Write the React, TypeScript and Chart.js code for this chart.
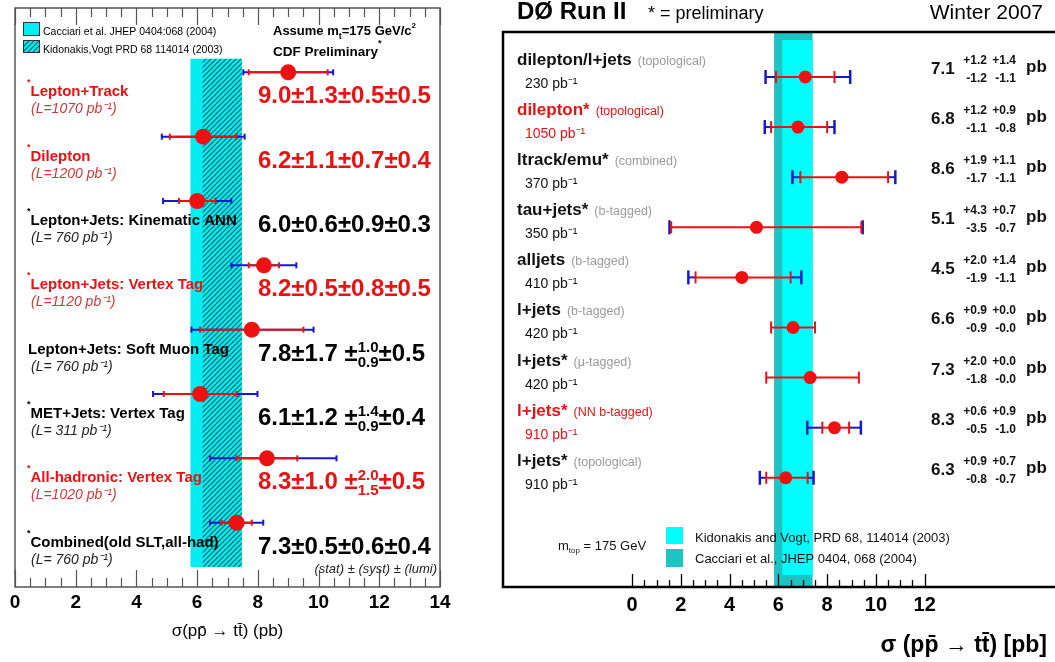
import React, { useEffect, useRef } from 'react';
import { Chart, registerables } from 'chart.js';

Chart.register(...registerables);

const FONT = '"Liberation Sans", Arial, Helvetica, sans-serif';

// ---------------- CDF (left panel) ----------------
const cdfChannels = [
  'Lepton+Track',
  'Dilepton',
  'Lepton+Jets: Kinematic ANN',
  'Lepton+Jets: Vertex Tag',
  'Lepton+Jets: Soft Muon Tag',
  'MET+Jets: Vertex Tag',
  'All-hadronic: Vertex Tag',
  'Combined(old SLT,all-had)',
];
const cdfLumiText = [
  '(L=1070 pb⁻¹)',
  '(L=1200 pb⁻¹)',
  '(L= 760 pb⁻¹)',
  '(L=1120 pb⁻¹)',
  '(L= 760 pb⁻¹)',
  '(L= 311 pb⁻¹)',
  '(L=1020 pb⁻¹)',
  '(L= 760 pb⁻¹)',
];
const cdfPreliminary = [true, true, true, true, false, true, true, true];
const cdfHighlight = [true, true, false, true, false, false, true, false];
const cdfXsec = [9.0, 6.2, 6.0, 8.2, 7.8, 6.1, 8.3, 7.3];
const cdfStat = [1.3, 1.1, 0.6, 0.5, 1.7, 1.2, 1.0, 0.5];
const cdfSystUp = [0.5, 0.7, 0.9, 0.8, 1.0, 1.4, 2.0, 0.6];
const cdfSystDown = [0.5, 0.7, 0.9, 0.8, 0.9, 0.9, 1.5, 0.6];
const cdfLumiErr = [0.5, 0.4, 0.3, 0.5, 0.5, 0.4, 0.5, 0.4];
const cdfTicks = [0, 2, 4, 6, 8, 10, 12, 14];
const cdfCacciari = [5.78, 7.47];
const cdfKidonakis = [6.18, 7.47];

// ---------------- D0 (right panel) ----------------
const d0Channels = [
  'dilepton/l+jets',
  'dilepton*',
  'ltrack/emu*',
  'tau+jets*',
  'alljets',
  'l+jets',
  'l+jets*',
  'l+jets*',
  'l+jets*',
];
const d0Methods = [
  '(topological)',
  '(topological)',
  '(combined)',
  '(b-tagged)',
  '(b-tagged)',
  '(b-tagged)',
  '(μ-tagged)',
  '(NN b-tagged)',
  '(topological)',
];
const d0LumiText = ['230 pb⁻¹', '1050 pb⁻¹', '370 pb⁻¹', '350 pb⁻¹', '410 pb⁻¹', '420 pb⁻¹', '420 pb⁻¹', '910 pb⁻¹', '910 pb⁻¹'];
const d0Highlight = [false, true, false, false, false, false, false, true, false];
const d0Xsec = [7.1, 6.8, 8.6, 5.1, 4.5, 6.6, 7.3, 8.3, 6.3];
const d0StatUp = [1.2, 1.2, 1.9, 4.3, 2.0, 0.9, 2.0, 0.6, 0.9];
const d0StatDown = [1.2, 1.1, 1.7, 3.5, 1.9, 0.9, 1.8, 0.5, 0.8];
const d0SystUp = [1.4, 0.9, 1.1, 0.7, 1.4, 0.0, 0.0, 0.9, 0.7];
const d0SystDown = [1.1, 0.8, 1.1, 0.7, 1.1, 0.0, 0.0, 1.0, 0.7];
const d0Ticks = [0, 2, 4, 6, 8, 10, 12];
const d0Cacciari = [5.82, 7.4];
const d0Kidonakis = [6.16, 7.4];

// ---------------- helpers ----------------
type Seg = { t?: string; font: string; dy?: number; color?: string; top?: string; bot?: string; topDy?: number; botDy?: number; gap?: number };

function segWidth(ctx: CanvasRenderingContext2D, s: Seg) {
  ctx.font = s.font;
  if (s.t !== undefined) return ctx.measureText(s.t).width;
  return Math.max(ctx.measureText(s.top || '').width, ctx.measureText(s.bot || '').width);
}

function drawRich(ctx: CanvasRenderingContext2D, x: number, y: number, segs: Seg[], color: string, align: 'left' | 'right' = 'left') {
  ctx.textAlign = 'left';
  ctx.textBaseline = 'alphabetic';
  const total = segs.reduce((a, s) => a + segWidth(ctx, s) + (s.gap || 0), 0);
  let cx = align === 'right' ? x - total : x;
  for (const s of segs) {
    const w = segWidth(ctx, s);
    ctx.font = s.font;
    ctx.fillStyle = s.color || color;
    if (s.t !== undefined) ctx.fillText(s.t, cx, y + (s.dy || 0));
    else {
      ctx.fillText(s.top || '', cx, y + (s.topDy || 0));
      ctx.fillText(s.bot || '', cx, y + (s.botDy || 0));
    }
    cx += w + (s.gap || 0);
  }
  return cx;
}

function line(ctx: CanvasRenderingContext2D, x0: number, y0: number, x1: number, y1: number) {
  ctx.beginPath();
  ctx.moveTo(x0, y0);
  ctx.lineTo(x1, y1);
  ctx.stroke();
}

function makeHatch(ctx: CanvasRenderingContext2D) {
  const c = document.createElement('canvas');
  c.width = 5;
  c.height = 5;
  const g = c.getContext('2d')!;
  g.fillStyle = '#00eef2';
  g.fillRect(0, 0, 5, 5);
  g.strokeStyle = '#125a60';
  g.lineWidth = 1.1;
  g.beginPath();
  g.moveTo(-1, 6);
  g.lineTo(6, -1);
  g.moveTo(-1, 1);
  g.lineTo(1, -1);
  g.moveTo(4, 6);
  g.lineTo(6, 4);
  g.stroke();
  return ctx.createPattern(c, 'repeat')!;
}

const RED = '#e81212';
const BLUE = '#1818c8';

// ---------------- CDF plugin ----------------
const cdfPlugin = {
  id: 'cdfDecor',
  beforeDatasetsDraw(chart: any) {
    const { ctx, scales } = chart;
    const x = scales.x, y = scales.y;
    ctx.save();
    const yTop = y.getPixelForValue(-0.21);
    const yBot = y.getPixelForValue(7.69);
    const c0 = x.getPixelForValue(cdfCacciari[0]);
    const c1 = x.getPixelForValue(cdfCacciari[1]);
    ctx.fillStyle = '#00eef2';
    ctx.fillRect(c0, yTop, c1 - c0, yBot - yTop);
    const k0 = x.getPixelForValue(cdfKidonakis[0]);
    const k1 = x.getPixelForValue(cdfKidonakis[1]);
    ctx.fillStyle = makeHatch(ctx);
    ctx.fillRect(k0, yTop, k1 - k0, yBot - yTop);

    cdfXsec.forEach((v, i) => {
      const py = y.getPixelForValue(i);
      const st = cdfStat[i];
      const tUp = Math.hypot(st, cdfSystUp[i], cdfLumiErr[i]);
      const tDn = Math.hypot(st, cdfSystDown[i], cdfLumiErr[i]);
      const px = (val: number) => x.getPixelForValue(val);
      ctx.lineWidth = 2;
      ctx.strokeStyle = BLUE;
      line(ctx, px(v - tDn), py, px(v + tUp), py);
      line(ctx, px(v - tDn), py - 3, px(v - tDn), py + 3);
      line(ctx, px(v + tUp), py - 3, px(v + tUp), py + 3);
      ctx.strokeStyle = RED;
      line(ctx, px(v - st), py, px(v + st), py);
      line(ctx, px(v - st), py - 3, px(v - st), py + 3);
      line(ctx, px(v + st), py - 3, px(v + st), py + 3);
    });
    ctx.restore();
  },
  afterDraw(chart: any) {
    const { ctx, chartArea: a, scales } = chart;
    const x = scales.x, y = scales.y;
    ctx.save();
    // frame
    ctx.strokeStyle = '#555';
    ctx.lineWidth = 1.5;
    ctx.strokeRect(a.left, a.top, a.right - a.left, a.bottom - a.top);
    // ticks
    ctx.lineWidth = 1.2;
    for (let k = 0; k <= 28; k++) {
      const v = k / 2;
      const px = Math.round(x.getPixelForValue(v)) + 0.5;
      const major = k % 4 === 0;
      const len = major ? 17 : 9;
      line(ctx, px, a.bottom, px, a.bottom - len);
      line(ctx, px, a.top, px, a.top + len);
    }
    // legend
    ctx.fillStyle = '#00eef2';
    ctx.fillRect(23, 22, 16, 13);
    ctx.strokeStyle = '#333';
    ctx.lineWidth = 1;
    ctx.strokeRect(23.5, 22.5, 16, 13);
    ctx.fillStyle = makeHatch(ctx);
    ctx.fillRect(23, 40, 16, 12);
    ctx.strokeRect(23.5, 40.5, 16, 12);
    ctx.fillStyle = '#000';
    ctx.font = `10.5px ${FONT}`;
    ctx.textAlign = 'left';
    ctx.textBaseline = 'alphabetic';
    ctx.fillText('Cacciari et al. JHEP 0404:068 (2004)', 43, 35);
    ctx.fillText('Kidonakis,Vogt PRD 68 114014 (2003)', 43, 53);
    drawRich(ctx, 273, 35, [
      { t: 'Assume m', font: `bold 13px ${FONT}` },
      { t: 't', font: `bold 9px ${FONT}`, dy: 4 },
      { t: '=175 GeV/c', font: `bold 13px ${FONT}` },
      { t: '2', font: `bold 8px ${FONT}`, dy: -7 },
    ], '#000');
    drawRich(ctx, 273, 56, [
      { t: 'CDF Preliminary', font: `bold 13.5px ${FONT}` },
      { t: '*', font: `bold 9px ${FONT}`, dy: -10 },
    ], '#000');

    // rows
    cdfXsec.forEach((v, i) => {
      const py = y.getPixelForValue(i);
      const red = cdfHighlight[i];
      const col = red ? RED : '#000';
      const segs: Seg[] = [];
      if (cdfPreliminary[i]) segs.push({ t: '*', font: `bold 9px ${FONT}`, dy: -11 });
      segs.push({ t: cdfChannels[i], font: `bold 15px ${FONT}` });
      drawRich(ctx, cdfPreliminary[i] ? 27 : 28, py + 24, segs, col);
      ctx.font = `italic 14px ${FONT}`;
      ctx.fillStyle = red ? '#d03838' : '#222';
      ctx.fillText(cdfLumiText[i], 31, py + 41);

      const big = `bold 24px ${FONT}`;
      const small = `bold 15px ${FONT}`;
      const st = cdfStat[i];
      if (cdfSystUp[i] === cdfSystDown[i]) {
        drawRich(ctx, 258, py + 31, [
          { t: `${v.toFixed(1)}±${st.toFixed(1)}±${cdfSystUp[i].toFixed(1)}±${cdfLumiErr[i].toFixed(1)}`, font: big },
        ], col);
      } else {
        drawRich(ctx, 258, py + 31, [
          { t: `${v.toFixed(1)}±${st.toFixed(1)} ±`, font: big },
          { font: small, top: cdfSystUp[i].toFixed(1), bot: cdfSystDown[i].toFixed(1), topDy: -9, botDy: 6 },
          { t: `±${cdfLumiErr[i].toFixed(1)}`, font: big },
        ], col);
      }
    });
    ctx.font = `italic 13px ${FONT}`;
    ctx.fillStyle = '#222';
    ctx.textAlign = 'right';
    ctx.fillText('(stat) ± (syst) ± (lumi)', 437, 573);
    ctx.restore();
  },
};

// ---------------- D0 plugin ----------------
const d0Plugin = {
  id: 'd0Decor',
  beforeDatasetsDraw(chart: any) {
    const { ctx, chartArea: a, scales } = chart;
    const x = scales.x, y = scales.y;
    ctx.save();
    const c0 = x.getPixelForValue(d0Cacciari[0]);
    const c1 = x.getPixelForValue(d0Cacciari[1]);
    ctx.fillStyle = '#1ec4c4';
    ctx.fillRect(c0, a.top, c1 - c0, a.bottom - a.top);
    const k0 = x.getPixelForValue(d0Kidonakis[0]);
    const k1 = x.getPixelForValue(d0Kidonakis[1]);
    ctx.fillStyle = '#00ffff';
    ctx.fillRect(k0, a.top + 8, k1 - k0, a.bottom - a.top - 20);

    d0Xsec.forEach((v, i) => {
      const py = y.getPixelForValue(i);
      const px = (val: number) => x.getPixelForValue(val);
      const sLo = v - d0StatDown[i];
      const sHi = v + d0StatUp[i];
      const tLo = v - Math.hypot(d0StatDown[i], d0SystDown[i]);
      const tHi = v + Math.hypot(d0StatUp[i], d0SystUp[i]);
      ctx.lineWidth = 2;
      if (d0SystUp[i] > 0 || d0SystDown[i] > 0) {
        ctx.strokeStyle = BLUE;
        ctx.lineWidth = 2;
        line(ctx, px(tLo), py, px(sLo), py);
        line(ctx, px(sHi), py, px(tHi), py);
        ctx.lineWidth = 2.5;
        line(ctx, px(tLo), py - 7, px(tLo), py + 7);
        line(ctx, px(tHi), py - 7, px(tHi), py + 7);
      }
      ctx.strokeStyle = RED;
      ctx.lineWidth = 2;
      line(ctx, px(sLo), py, px(sHi), py);
      line(ctx, px(sLo), py - 6, px(sLo), py + 6);
      line(ctx, px(sHi), py - 6, px(sHi), py + 6);
    });
    ctx.restore();
  },
  afterDraw(chart: any) {
    const { ctx, chartArea: a, scales } = chart;
    const x = scales.x, y = scales.y;
    ctx.save();
    // frame
    ctx.strokeStyle = '#000';
    ctx.lineWidth = 2.5;
    ctx.beginPath();
    ctx.moveTo(chart.width, a.top);
    ctx.lineTo(a.left, a.top);
    ctx.lineTo(a.left, a.bottom);
    ctx.lineTo(chart.width, a.bottom);
    ctx.stroke();
    // ticks
    ctx.lineWidth = 1.3;
    for (let k = 0; k <= 24; k++) {
      const v = k / 2;
      const px = Math.round(x.getPixelForValue(v)) + 0.5;
      const len = k % 4 === 0 ? 13 : 7;
      line(ctx, px, a.bottom, px, a.bottom - len);
    }
    // header
    ctx.textAlign = 'left';
    ctx.textBaseline = 'alphabetic';
    ctx.fillStyle = '#000';
    ctx.font = `bold 24px ${FONT}`;
    ctx.fillText('DØ Run II', 27, 19);
    ctx.font = `18px ${FONT}`;
    ctx.fillText('* = preliminary', 158, 19);
    ctx.font = `21px ${FONT}`;
    ctx.textAlign = 'right';
    ctx.fillText('Winter 2007', 553, 19);
    ctx.font = `bold 23px ${FONT}`;
    ctx.fillText('σ (pp̄ → tt̄) [pb]', 557, 652);
    ctx.textAlign = 'left';

    // rows
    d0Xsec.forEach((v, i) => {
      const py = y.getPixelForValue(i);
      const red = d0Highlight[i];
      const col = red ? RED : '#111';
      drawRich(ctx, 27, py - 12, [
        { t: d0Channels[i], font: `bold 17px ${FONT}`, gap: 6 },
        { t: d0Methods[i], font: `12.5px ${FONT}`, color: red ? RED : '#9a9a9a' },
      ], col);
      ctx.font = `14px ${FONT}`;
      ctx.fillStyle = col;
      ctx.fillText(d0LumiText[i], 35, py + 11);

      ctx.font = `bold 17px ${FONT}`;
      ctx.fillStyle = '#111';
      ctx.fillText(v.toFixed(1), 441, py - 3);
      ctx.font = `bold 12px ${FONT}`;
      ctx.textAlign = 'right';
      ctx.fillText('+' + d0StatUp[i].toFixed(1), 497, py - 13);
      ctx.fillText('+' + d0SystUp[i].toFixed(1), 526, py - 13);
      ctx.fillText('-' + d0StatDown[i].toFixed(1), 497, py + 5);
      ctx.fillText('-' + d0SystDown[i].toFixed(1), 526, py + 5);
      ctx.textAlign = 'left';
      ctx.font = `bold 17px ${FONT}`;
      ctx.fillText('pb', 536, py - 5);
    });

    // legend
    drawRich(ctx, 68, 550, [
      { t: 'm', font: `13px ${FONT}` },
      { t: 'top', font: `8px ${FONT}`, dy: 3 },
      { t: ' = 175 GeV', font: `13px ${FONT}` },
    ], '#111');
    ctx.fillStyle = '#00ffff';
    ctx.fillRect(176, 527, 17, 17);
    ctx.fillStyle = '#1ec4c4';
    ctx.fillRect(176, 549, 17, 18);
    ctx.fillStyle = '#111';
    ctx.font = `13px ${FONT}`;
    ctx.fillText('Kidonakis and Vogt, PRD 68, 114014 (2003)', 205, 542);
    ctx.fillText('Cacciari et al., JHEP 0404, 068 (2004)', 205, 563);
    ctx.restore();
  },
};

function CdfChart() {
  const ref = useRef<HTMLCanvasElement>(null);
  useEffect(() => {
    const chart = new Chart(ref.current!, {
      type: 'scatter',
      data: {
        datasets: [
          {
            data: cdfXsec.map((v, i) => ({ x: v, y: i })),
            pointRadius: 8,
            pointBackgroundColor: '#ee1111',
            pointBorderWidth: 0,
          },
        ],
      },
      options: {
        responsive: false,
        animation: false,
        devicePixelRatio: 1,
        layout: { padding: { left: 15, right: 40, top: 8, bottom: 20 } },
        plugins: { legend: { display: false }, tooltip: { enabled: false } },
        scales: {
          x: {
            type: 'linear',
            min: 0,
            max: 14,
            afterBuildTicks: (s: any) => {
              s.ticks = cdfTicks.map((v) => ({ value: v }));
            },
            afterFit: (s: any) => {
              s.height = 55;
            },
            ticks: { font: { family: FONT, size: 19, weight: 'bold' }, color: '#000', padding: 4, maxRotation: 0, autoSkip: false },
            grid: { display: false, drawTicks: false },
            border: { display: false },
            title: { display: true, text: 'σ(pp̄ → tt̄) (pb)', font: { family: FONT, size: 17 }, color: '#000', padding: 0 },
          },
          y: { type: 'linear', min: -1, max: 8, reverse: true, display: false },
        },
      } as any,
      plugins: [cdfPlugin],
    });
    return () => chart.destroy();
  }, []);
  return <canvas ref={ref} width={480} height={662} style={{ position: 'absolute', left: 0, top: 0 }} />;
}

function D0Chart() {
  const ref = useRef<HTMLCanvasElement>(null);
  useEffect(() => {
    const chart = new Chart(ref.current!, {
      type: 'scatter',
      data: {
        datasets: [
          {
            data: d0Xsec.map((v, i) => ({ x: v, y: i })),
            pointRadius: 6.5,
            pointBackgroundColor: '#ee1111',
            pointBorderWidth: 0,
          },
        ],
      },
      options: {
        responsive: false,
        animation: false,
        devicePixelRatio: 1,
        layout: { padding: { left: 13, right: 0, top: 32, bottom: 20 } },
        plugins: { legend: { display: false }, tooltip: { enabled: false } },
        scales: {
          x: {
            type: 'linear',
            min: -5.3,
            max: 17.08,
            afterBuildTicks: (s: any) => {
              s.ticks = d0Ticks.map((v) => ({ value: v }));
            },
            afterFit: (s: any) => {
              s.height = 55;
            },
            ticks: { font: { family: FONT, size: 20, weight: 'bold' }, color: '#000', padding: 6, maxRotation: 0, autoSkip: false },
            grid: { display: false, drawTicks: false },
            border: { display: false },
          },
          y: { type: 'linear', min: -0.898, max: 10.18, reverse: true, display: false },
        },
      } as any,
      plugins: [d0Plugin],
    });
    return () => chart.destroy();
  }, []);
  return <canvas ref={ref} width={565} height={662} style={{ position: 'absolute', left: 490, top: 0 }} />;
}

export default function App() {
  return (
    <div style={{ position: 'absolute', left: 0, top: 0, width: 1055, height: 662, background: '#fff', overflow: 'hidden' }}>
      <CdfChart />
      <D0Chart />
    </div>
  );
}
